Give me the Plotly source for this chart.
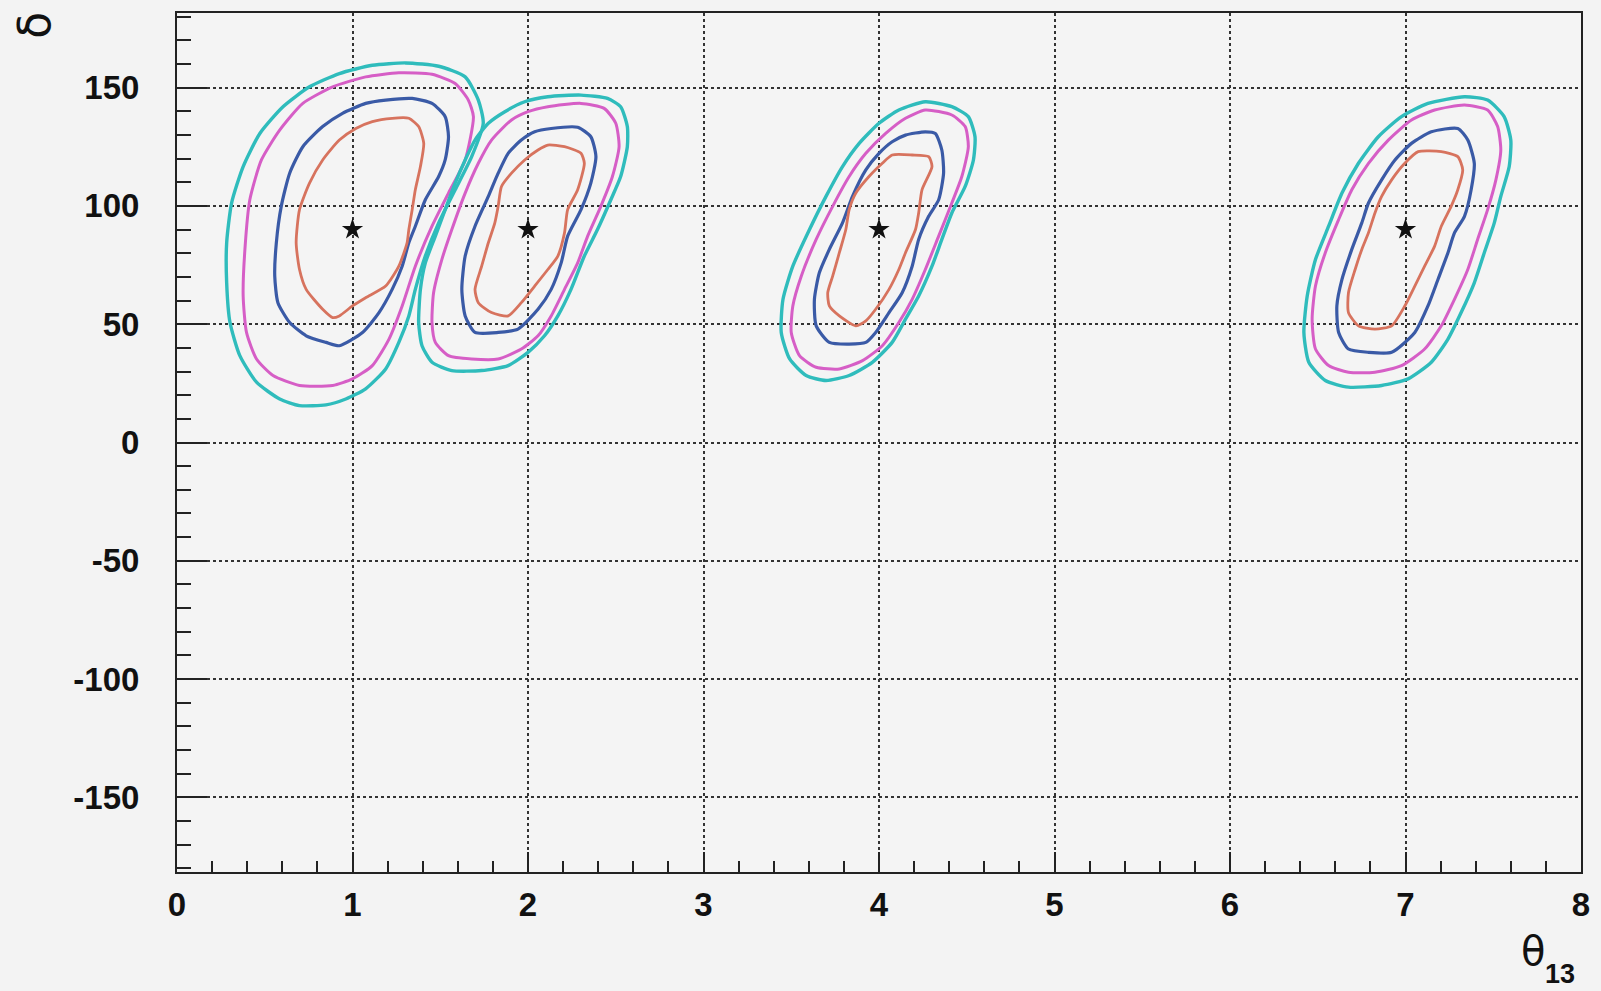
import plotly.graph_objects as go

# best-fit points (theta13, delta)
star_x = [1, 2, 4, 7]
star_y = [90, 90, 90, 90]

# ---------- cluster at theta13 = 1 ----------
c1_cyan = [(1.302,160.4),(1.491,159.0),(1.642,154.5),(1.717,144.7),(1.745,134.9),(1.679,120.8),(1.585,106.8),
           (1.491,92.8),(1.415,78.8),(1.358,64.7),(1.321,53.5),(1.264,42.3),(1.189,31.1),(1.075,22.7),(0.962,18.4),
           (0.849,15.9),(0.698,15.6),(0.585,18.4),(0.453,25.5),(0.358,36.7),(0.302,50.7),(0.283,67.5),(0.283,84.4),
           (0.311,101.2),(0.377,116.6),(0.472,130.6),(0.604,141.9),(0.755,150.3),(0.925,155.9),(1.113,159.4)]
c1_magenta = [(1.264,156.2),(1.453,155.6),(1.585,151.7),(1.660,144.7),(1.689,137.7),(1.642,119.4),(1.547,105.4),
              (1.453,91.4),(1.358,74.5),(1.283,57.7),(1.208,43.7),(1.113,32.5),(1.0,26.9),(0.887,24.1),(0.698,24.1),
              (0.547,28.3),(0.453,35.3),(0.396,46.5),(0.377,61.9),(0.387,81.6),(0.415,102.6),(0.481,119.4),
              (0.585,132.0),(0.717,143.3),(0.887,150.3),(1.075,154.5)]
c1_blue = [(1.189,144.7),(1.340,145.4),(1.453,143.3),(1.528,137.7),(1.547,129.2),(1.528,119.4),(1.491,112.4),
           (1.415,102.6),(1.358,91.4),(1.321,84.4),(1.283,74.5),(1.226,64.7),(1.151,54.9),(1.057,46.5),(0.925,40.9),
           (0.849,42.3),(0.736,45.1),(0.642,50.7),(0.575,59.1),(0.557,70.3),(0.566,84.4),(0.594,99.8),(0.642,113.8),
           (0.717,125.0),(0.830,133.5),(0.943,139.1),(1.075,143.3)]
c1_red = [(1.113,135.6),(1.226,137.0),(1.321,137.0),(1.377,133.5),(1.406,126.4),(1.387,116.6),(1.358,106.8),
          (1.340,98.4),(1.321,90.0),(1.311,84.4),(1.264,74.5),(1.189,66.1),(1.075,61.2),(1.0,57.7),(0.925,53.5),
          (0.887,52.8),(0.830,56.3),(0.736,64.7),(0.698,73.1),(0.679,84.4),(0.698,98.4),(0.755,109.6),(0.830,119.4),
          (0.925,127.8),(1.019,132.7)]

# ---------- cluster at theta13 = 2 ----------
c2_cyan = [(2.113,146.1),(2.302,146.8),(2.453,145.4),(2.528,141.9),(2.566,133.5),(2.566,125.0),(2.528,112.4),
           (2.472,102.6),(2.396,90.0),(2.321,78.8),(2.245,64.7),(2.170,53.5),(2.094,45.1),(2.0,38.1),(1.887,32.5),
           (1.736,30.4),(1.566,30.4),(1.453,33.9),(1.396,40.9),(1.377,50.7),(1.387,64.7),(1.415,75.9),(1.472,87.2),
           (1.528,98.4),(1.585,109.6),(1.642,119.4),(1.698,127.8),(1.774,134.9),(1.868,139.8),(1.981,144.0)]
c2_magenta = [(2.113,141.9),(2.302,143.3),(2.434,141.2),(2.5,134.9),(2.519,125.0),(2.481,112.4),(2.415,99.8),
              (2.340,87.2),(2.283,75.9),(2.208,64.7),(2.132,53.5),(2.057,45.1),(1.962,39.5),(1.830,35.3),(1.679,35.3),
              (1.547,36.7),(1.472,42.3),(1.453,50.7),(1.462,63.3),(1.509,77.3),(1.566,90.0),(1.642,105.4),
              (1.717,118.0),(1.792,127.8),(1.906,136.3),(2.0,139.8)]
c2_blue = [(2.132,132.7),(2.283,133.2),(2.358,129.2),(2.387,120.8),(2.358,109.6),(2.302,98.4),(2.226,87.2),
           (2.189,75.9),(2.132,64.7),(2.057,56.3),(1.943,47.9),(1.830,46.5),(1.698,46.5),(1.642,53.5),(1.623,64.7),
           (1.642,78.8),(1.698,91.4),(1.774,104.0),(1.830,113.8),(1.887,122.2),(1.962,127.8),(2.038,131.3)]
c2_red = [(2.113,125.7),(2.208,125.0),(2.302,122.2),(2.321,118.0),(2.283,106.8),(2.226,98.4),(2.208,88.6),
          (2.170,78.8),(2.113,73.1),(2.038,66.1),(1.962,59.1),(1.887,53.5),(1.792,54.9),(1.717,59.1),(1.698,64.7),
          (1.736,74.5),(1.774,84.4),(1.811,92.8),(1.830,99.8),(1.849,108.2),(1.906,113.8),(1.981,119.4),(2.057,123.6)]

# ---------- cluster at theta13 = 4 ----------
c4_cyan = [(4.264,144.0),(4.415,141.9),(4.509,137.7),(4.547,129.2),(4.538,119.4),(4.491,108.2),(4.415,97.0),
           (4.358,85.8),(4.302,74.5),(4.226,61.9),(4.151,52.1),(4.075,42.3),(3.962,33.9),(3.830,28.3),(3.698,26.2),
           (3.585,28.3),(3.491,35.3),(3.443,46.5),(3.453,60.5),(3.509,74.5),(3.604,90.0),(3.698,104.0),(3.792,116.6),
           (3.887,126.4),(4.0,134.9),(4.113,140.5)]
c4_magenta = [(4.264,140.5),(4.415,138.4),(4.491,133.5),(4.509,125.0),(4.472,112.4),(4.415,101.2),(4.340,87.2),
              (4.264,73.1),(4.189,60.5),(4.113,50.7),(4.019,40.9),(3.906,34.6),(3.774,31.1),(3.642,31.8),(3.547,36.7),
              (3.5,46.5),(3.509,57.7),(3.557,70.3),(3.642,85.8),(3.736,99.8),(3.830,112.4),(3.925,122.2),
              (4.038,130.6),(4.151,137.0)]
c4_blue = [(4.151,129.9),(4.264,131.3),(4.321,130.6),(4.358,123.6),(4.368,113.8),(4.340,102.6),(4.283,95.6),
           (4.226,85.8),(4.189,74.5),(4.132,63.3),(4.057,54.9),(3.981,46.5),(3.925,42.3),(3.830,41.6),(3.717,42.3),
           (3.642,49.3),(3.632,60.5),(3.660,71.7),(3.717,81.6),(3.792,92.8),(3.849,104.0),(3.925,115.2),(4.0,122.2),
           (4.075,127.1)]
c4_red = [(4.075,121.5),(4.189,121.5),(4.283,120.8),(4.302,116.6),(4.245,106.8),(4.226,97.0),(4.208,90.0),
          (4.151,80.2),(4.113,73.1),(4.057,64.7),(3.981,56.3),(3.925,51.4),(3.868,49.3),(3.774,53.5),(3.717,57.7),
          (3.708,63.3),(3.736,70.3),(3.774,80.2),(3.811,90.0),(3.830,98.4),(3.868,105.4),(3.943,112.4),(4.019,118.0)]

# ---------- cluster at theta13 = 7 ----------
c7_cyan = [(7.336,146.1),(7.468,144.7),(7.562,137.7),(7.6,127.8),(7.591,116.6),(7.543,104.0),(7.506,92.8),
           (7.449,80.2),(7.392,67.5),(7.317,54.9),(7.242,43.7),(7.147,33.9),(7.015,26.9),(6.864,24.1),(6.675,23.4),
           (6.543,26.2),(6.449,33.9),(6.421,46.5),(6.440,61.9),(6.487,77.3),(6.562,91.4),(6.638,105.4),(6.732,118.0),
           (6.845,129.2),(6.977,137.7),(7.128,143.3)]
c7_magenta = [(7.336,142.6),(7.468,140.5),(7.525,133.5),(7.543,123.6),(7.515,111.0),(7.468,98.4),(7.411,85.8),
              (7.355,73.1),(7.279,60.5),(7.204,49.3),(7.109,39.5),(6.977,32.5),(6.826,29.7),(6.675,29.7),(6.562,32.5),
              (6.487,39.5),(6.468,52.1),(6.487,66.1),(6.543,80.2),(6.619,94.2),(6.694,106.8),(6.789,118.0),
              (6.902,127.8),(7.034,136.3),(7.166,140.5)]
c7_blue = [(7.147,131.3),(7.298,132.7),(7.355,127.8),(7.392,118.0),(7.374,106.8),(7.336,95.6),(7.279,88.6),
           (7.242,80.2),(7.185,68.9),(7.128,57.7),(7.053,46.5),(6.921,38.1),(6.789,38.1),(6.675,39.5),(6.619,46.5),
           (6.609,57.7),(6.638,68.9),(6.694,81.6),(6.751,92.8),(6.789,101.2),(6.864,111.0),(6.940,119.4),(7.034,126.4)]
c7_red = [(7.072,122.9),(7.204,122.9),(7.298,120.8),(7.326,115.2),(7.298,106.8),(7.260,99.8),(7.204,91.4),
          (7.166,83.0),(7.109,74.5),(7.053,66.1),(6.996,57.7),(6.921,49.3),(6.826,47.9),(6.732,49.3),(6.675,54.9),
          (6.675,63.3),(6.713,73.1),(6.751,81.6),(6.789,88.6),(6.826,97.0),(6.864,104.0),(6.921,111.0),(6.996,118.0)]

x_ticks = [0, 1, 2, 3, 4, 5, 6, 7, 8]
y_ticks = [-150, -100, -50, 0, 50, 100, 150]

COL = {"cyan": "#2fbcbc", "magenta": "#d65ec6", "blue": "#3a5aa6", "red": "#d7735e"}
WID = {"cyan": 3.4, "magenta": 3.0, "blue": 3.2, "red": 2.8}

contours = [
    ("cyan", c1_cyan), ("magenta", c1_magenta), ("blue", c1_blue), ("red", c1_red),
    ("cyan", c2_cyan), ("magenta", c2_magenta), ("blue", c2_blue), ("red", c2_red),
    ("cyan", c4_cyan), ("magenta", c4_magenta), ("blue", c4_blue), ("red", c4_red),
    ("cyan", c7_cyan), ("magenta", c7_magenta), ("blue", c7_blue), ("red", c7_red),
]

fig = go.Figure()
for name, pts in contours:
    xs = [p[0] for p in pts] + [pts[0][0]]
    ys = [p[1] for p in pts] + [pts[0][1]]
    fig.add_trace(go.Scatter(x=xs, y=ys, mode="lines",
                             line=dict(color=COL[name], width=WID[name], shape="spline", smoothing=0.6),
                             hoverinfo="skip", showlegend=False))

fig.add_trace(go.Scatter(x=star_x, y=star_y, mode="markers",
                         marker=dict(symbol="star", size=16, color="#111111"),
                         showlegend=False))

tickfont = dict(family="Liberation Sans, Arial, sans-serif", size=33, color="#111111", weight="bold")

fig.update_layout(
    width=1601, height=991,
    margin=dict(l=177, r=11, t=13, b=119),
    paper_bgcolor="#f3f3f3", plot_bgcolor="#f4f4f4",
    showlegend=False,
    xaxis=dict(range=[0, 8], tickvals=x_ticks, ticktext=[str(v) for v in x_ticks],
               ticks="inside", ticklen=20, tickwidth=1.5, tickcolor="#222222",
               minor=dict(dtick=0.2, ticks="inside", ticklen=11, tickwidth=1.5, tickcolor="#222222", showgrid=False),
               showgrid=True, gridcolor="#333333", griddash="dot", gridwidth=1.5,
               showline=True, linecolor="#222222", linewidth=2, mirror=True,
               zeroline=False, tickfont=tickfont, ticklabelstandoff=2),
    yaxis=dict(range=[-181.5, 181.5], tickvals=y_ticks, ticktext=[str(v) for v in y_ticks],
               ticks="inside", ticklen=30, tickwidth=1.5, tickcolor="#222222",
               minor=dict(dtick=10, ticks="inside", ticklen=14, tickwidth=1.5, tickcolor="#222222", showgrid=False),
               showgrid=True, gridcolor="#333333", griddash="dot", gridwidth=1.5,
               showline=True, linecolor="#222222", linewidth=2, mirror=True,
               zeroline=False, tickfont=tickfont, ticklabelstandoff=29),
    annotations=[
        dict(text="δ", xref="paper", yref="paper", x=-0.102, y=0.986, showarrow=False,
             textangle=-90, font=dict(family="DejaVu Sans, sans-serif", size=44, color="#111111"),
             xanchor="center", yanchor="middle"),
        dict(text="θ", xref="paper", yref="paper", x=0.9755, y=-0.0925, showarrow=False,
             font=dict(family="DejaVu Sans, sans-serif", size=40, color="#111111"),
             xanchor="right", yanchor="middle"),
        dict(text="13", xref="paper", yref="paper", x=0.9975, y=-0.119, showarrow=False,
             font=dict(family="Liberation Sans, Arial, sans-serif", size=27, color="#111111", weight="bold"),
             xanchor="right", yanchor="middle"),
    ],
)

fig.write_html("out.html", config={"displayModeBar": False},
               post_script="document.body.style.margin='0';document.body.style.background='#f3f3f3';")
